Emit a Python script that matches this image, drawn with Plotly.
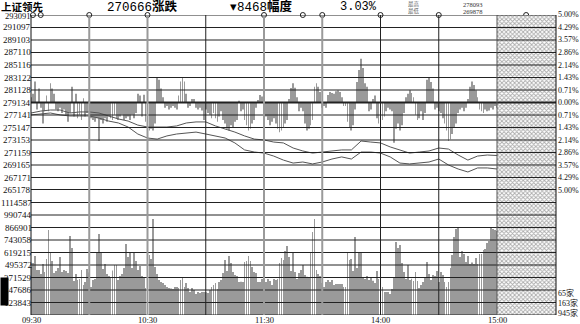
import plotly.graph_objects as go

W, H = 580, 324
X0, X1 = 31, 556          # plot left / right pixel
Y_TOP, Y_MID, Y_BOT = 15, 190, 315
PX_PER_MIN = 466 / 240.0
X_MAX = (X1 - X0) / PX_PER_MIN

def px(x):
    return x / W

def py(y):
    return 1 - y / H

# ---------------- data ----------------
# leading-indicator bars (% of previous close), one per minute 09:30..15:00
lead_pct = [
    0.3, 0.5, 1.2, -0.4, 0.8, -0.3, -1.2, -0.5, 0.4, -0.5,
    1.1, 0.8, 0.5, -0.4, -0.5, -0.3, -0.6, -0.4, -0.7, -1.1,
    -0.6, 0.9, -0.8, 0.5, -0.9, -0.7, -1.0, 0.25, -0.8, -0.6,
    0.1, -0.9, -1.0, -1.1, -0.9, -2.2, -1.0, -1.2, -0.9, -1.1,
    -0.8, -0.9, -1.0, -0.7, -0.9, -1.0, -0.8, -0.7, -1.0, -0.9,
    -0.8, -1.0, -0.7, -0.9, -0.6, 0.5, 0.4, -0.8, 0.45, -1.1,
    -1.0, -1.6, -1.5, -1.6, -1.2, 1.4, 1.3, 0.8, 0.3, -0.3,
    -0.2, -0.4, -0.3, -0.2, -0.3, -0.4, 0.4, 1.2, 1.4, 1.2,
    0.5, -0.3, -0.2, 0.2, 0.2, -0.3, -0.4, -0.3, -0.45, -1.0,
    -0.4, -0.6, -0.7, -0.9, -0.6, -0.9, -1.1, -0.8, -0.5, -1.0,
    -1.2, -1.5, -1.6, -1.3, -1.4, -1.1, -1.0, 0.1, -0.5, -0.4,
    -1.0, -1.3, -1.6, -1.5, -1.2, -1.0, -0.3, 0.14, 0.43, 0.35,
    -0.2, -0.8, -1.0, -1.3, -1.1, -0.9, -1.2, -1.5, -1.7, -1.6,
    -1.4, -1.2, -1.0, 0.2, 0.83, 1.1, 0.85, 0.3, -0.5, -0.3,
    -0.5, -1.2, -1.6, -1.5, -1.3, -1.0, 0.9, 1.1, 0.9, 0.6,
    -0.3, -0.2, -0.3, 0.43, 0.6, 0.55, 0.5, 0.65, 0.68, 0.6,
    0.3, -0.2, -0.2, -1.1, -1.4, -1.6, -1.3, -0.4, 1.17, 1.86,
    2.5, 1.97, 1.1, 0.9, -0.5, -0.4, 0.2, 0.4, -0.9, -1.2,
    -1.3, -1.0, -0.8, -0.5, -0.3, -0.4, -0.5, -2.3, -1.5, -1.2,
    -1.6, -1.3, -0.6, 0.3, 0.5, 0.7, 0.55, 0.3, -0.7, -1.0,
    -0.9, -0.5, -1.0, -0.6, 1.3, 1.4, 1.17, 0.8, -0.4, -0.3,
    -0.5, -0.6, -0.9, -1.2, -1.6, -2.2, -2.1, -1.8, -1.4, -1.2,
    -0.6, -0.4, -0.3, -0.5, -0.3, 0.2, 0.9, 1.2, 1.0, 0.7,
    0.3, -0.4, -0.5, -0.6, -0.4, -0.5, -0.45, -0.3, -0.4, -0.2, -0.3,
]

# volume per minute, in thousands
volume_k = [
    480, 515, 585, 446, 446, 406, 505, 426, 555, 842, 614, 535, 416, 436, 466, 575,
    426, 446, 436, 416, 783, 664, 337, 406, 347, 357, 446, 297, 327, 456, 420,
    277, 347, 357, 614, 803, 614, 456, 505, 406, 386, 376,
    440,
    495, 495, 347, 386, 406, 466, 703, 575, 614, 466, 624, 535, 446, 485, 386, 376,
    267, 446, 594, 555, 951, 476, 406, 347, 327, 317, 297, 277, 267,
    262,
    257, 277, 277, 267, 347, 367, 277, 317, 267, 228, 267, 248, 208, 228,
    218, 228, 228, 225, 218, 247, 277, 297, 317, 257, 327, 347, 416, 545, 436, 585,
    515, 426, 396, 386, 327,
    330,
    327, 525, 535, 585, 535, 476, 426, 416, 327, 327, 357, 330, 327, 357, 337, 297,
    357, 347, 357, 515, 565, 545, 634, 684, 575, 436, 614, 426, 357, 416, 446, 495, 396,
    380,
    367, 624, 822, 951, 446, 406, 386, 317, 277, 327, 347, 327, 347, 297, 307, 307,
    307, 307, 277, 277, 614, 545, 555, 436, 773, 466, 614, 614, 367, 357, 386, 347, 367,
    340,
    317, 436, 357,
    267, 277, 228, 228, 228, 208, 257, 367, 723, 664, 694, 515, 426, 357, 495, 347,
    360,
    337, 426, 337, 267, 297, 327, 377, 525, 406, 347, 396, 386, 436, 327, 426, 396,
    327, 277, 327, 466, 594, 773, 851, 872, 575, 634, 604, 525, 585, 505,
    520,
    505, 565, 505, 604, 604, 644, 654, 713, 733, 862, 851, 841, 831,
]

line_minutes = list(range(0, 241, 5))
index_pct = [
    -0.60, -0.49, -0.43, -0.43, -0.60, -0.54, -0.54, -0.60, -0.77, -0.94,
    -1.06, -1.29, -1.40, -1.40, -1.40, -1.34, -1.17, -1.11, -1.11, -1.34,
    -1.51, -1.69, -1.91, -2.09, -2.14, -2.26, -2.31, -2.60, -2.77, -2.89,
    -2.83, -2.77, -2.71, -2.71, -2.20, -2.26, -2.31, -2.54, -2.71, -2.89,
    -2.83, -2.77, -2.60, -2.66, -3.00, -3.29, -3.06, -3.00, -3.03,
]
breadth_pct = [
    -0.71, -0.66, -0.60, -0.71, -0.77, -0.77, -0.77, -0.89, -1.06, -1.17,
    -1.40, -1.80, -2.03, -2.09, -1.91, -1.80, -1.74, -1.69, -1.80, -1.91,
    -2.03, -2.31, -2.71, -2.83, -2.89, -3.06, -3.29, -3.46, -3.40, -3.51,
    -3.40, -3.23, -3.11, -3.23, -2.83, -2.83, -2.89, -3.11, -3.46, -3.51,
    -3.46, -3.40, -3.23, -3.57, -3.80, -3.97, -3.74, -3.74, -3.80,
]

price_labels = ["293091", "291097", "289103", "287110", "285116", "283122", "281128",
                "279134", "277141", "275147", "273153", "271159", "269165", "267171", "265178"]
pct_labels = ["5.00%", "4.29%", "3.57%", "2.86%", "2.14%", "1.43%", "0.71%", "0.00%",
              "0.71%", "1.43%", "2.14%", "2.86%", "3.57%", "4.29%", "5.00%"]
volume_labels = ["1114587", "990744", "866901", "743058", "619215", "495372",
                 "371529", "247686", "123843"]
volume_step_k = 123.843
time_labels = ["09:30", "10:30", "11:30", "14:00", "15:00"]
time_minutes = [0, 60, 120, 180, 240]
count_labels = ["65家", "163家", "945家"]
marker_minutes = [1, 5, 30, 60, 120, 140, 150, 180, 210, 255]
grid_minutes = [30, 60, 90, 120, 150, 180, 210]
grid_colors = ["#9a9a9a", "#9a9a9a", "#222", "#9a9a9a", "#9a9a9a", "#222", "#222"]

# ---------------- figure ----------------
fig = go.Figure()

fig.add_trace(go.Scatter(
    x=[240, X_MAX, X_MAX, 240, 240], y=[0, 0, 1, 1, 0], xaxis="x", yaxis="y3",
    mode="lines", line=dict(width=0), fill="toself", fillcolor="white",
    fillpattern=dict(shape="x", size=3, fgcolor="#555", bgcolor="white", solidity=0.5),
    hoverinfo="skip", showlegend=False))

fig.add_trace(go.Bar(x=list(range(len(lead_pct))), y=lead_pct, xaxis="x", yaxis="y",
                     width=0.4, marker=dict(color="#9a9a9a", line=dict(width=0)),
                     showlegend=False))
fig.add_trace(go.Bar(x=list(range(len(volume_k))), y=volume_k, xaxis="x", yaxis="y2",
                     width=0.4, marker=dict(color="#9a9a9a", line=dict(width=0)),
                     showlegend=False))
fig.add_trace(go.Scatter(x=line_minutes, y=index_pct, xaxis="x", yaxis="y", mode="lines",
                         line=dict(color="#555", width=1), showlegend=False))
fig.add_trace(go.Scatter(x=line_minutes, y=breadth_pct, xaxis="x", yaxis="y", mode="lines",
                         line=dict(color="#555", width=1), showlegend=False))
fig.add_trace(go.Scatter(x=marker_minutes, y=[5] * len(marker_minutes), xaxis="x", yaxis="y",
                         mode="markers", cliponaxis=False,
                         marker=dict(symbol="circle-open", size=5, color="#222",
                                     line=dict(width=1, color="#222")),
                         showlegend=False))

shapes = []
n = len(price_labels)
for i in range(n):
    v = 5 - i * 10.0 / (n - 1)
    w = 2 if i in (7, n - 1) else 1
    shapes.append(dict(type="line", xref="paper", yref="y", x0=px(X0), x1=px(X1), y0=v, y1=v,
                       line=dict(color="#222", width=w), layer="above"))
for j in range(len(volume_labels) + 1):
    v = j * volume_step_k
    shapes.append(dict(type="line", xref="paper", yref="y2", x0=px(X0), x1=px(X1), y0=v, y1=v,
                       line=dict(color="#222", width=1), layer="above"))
for m, c in zip(grid_minutes, grid_colors):
    shapes.append(dict(type="line", xref="x", yref="paper", x0=m, x1=m,
                       y0=py(Y_BOT), y1=py(Y_TOP), line=dict(color=c, width=2 if c != "#222" else 1),
                       layer="above"))
for xx in (X0, X1):
    shapes.append(dict(type="line", xref="paper", yref="paper", x0=px(xx), x1=px(xx),
                       y0=py(Y_BOT), y1=py(Y_TOP), line=dict(color="#111", width=1), layer="above"))
shapes.append(dict(type="line", xref="x", yref="paper", x0=240, x1=240,
                   y0=py(Y_BOT), y1=py(Y_TOP), line=dict(color="#555", width=1), layer="above"))

ann = []
SERIF = "Liberation Serif, DejaVu Serif, serif"
for i, t in enumerate(price_labels):
    v = 5 - i * 10.0 / (n - 1)
    if i == 0:
        ann.append(dict(text=t, xref="paper", yref="paper", x=px(X0 + 0.5), y=py(15.8),
                        xanchor="right", yanchor="middle", height=8, showarrow=False, borderpad=0,
                        font=dict(family=SERIF, size=8.5, color="#111")))
    else:
        ann.append(dict(text=t, xref="paper", yref="y", x=px(X0 + 0.5), y=v, xanchor="right",
                        yanchor="middle", showarrow=False, borderpad=0,
                        font=dict(family=SERIF, size=9, color="#111")))
    ann.append(dict(text=pct_labels[i], xref="paper", yref="y", x=px(X1 + 1), y=v, xanchor="left",
                    yanchor="middle", showarrow=False, borderpad=0,
                    font=dict(family=SERIF, size=8, color="#111")))
for j, t in enumerate(volume_labels):
    v = (len(volume_labels) - j) * volume_step_k
    ann.append(dict(text=t, xref="paper", yref="y2", x=px(X0 + 2), y=v, xanchor="right",
                    yanchor="middle", showarrow=False, borderpad=0,
                    font=dict(family=SERIF, size=9, color="#111")))
for t, m in zip(time_labels, time_minutes):
    ann.append(dict(text=t, xref="x", yref="paper", x=m, y=py(319.5), xanchor="center",
                    yanchor="middle", showarrow=False, borderpad=0,
                    font=dict(family=SERIF, size=8.5, color="#111")))
for k, t in enumerate(count_labels):
    ann.append(dict(text=t, xref="paper", yref="paper", x=px(X1 + 1), y=py(293 + 10 * k),
                    xanchor="left", yanchor="middle", showarrow=False, borderpad=0,
                    font=dict(family="Liberation Serif, Noto Sans CJK SC", size=8, color="#111")))

# black block at lower left
ann.append(dict(text=" ", xref="paper", yref="paper", x=0, y=py(277), xanchor="left", yanchor="top",
                width=7, height=27, bgcolor="black", borderpad=0, showarrow=False,
                font=dict(size=8)))

CJK = "Noto Sans CJK SC"
MONO = "Liberation Mono, " + CJK
ann += [
    dict(text="<b>上证领先</b>", xref="paper", yref="paper", x=0, y=1, xanchor="left",
         yanchor="top", height=11.5, showarrow=False, borderpad=0,
         font=dict(family=CJK, size=10.5, color="#000")),
    dict(text="270666<b>涨跌</b>", xref="paper", yref="paper", x=px(106), y=py(7), xanchor="left",
         yanchor="middle", showarrow=False, borderpad=0,
         font=dict(family=MONO, size=12.5, color="#000")),
    dict(text="▾8468<b>幅度</b>", xref="paper", yref="paper", x=px(229), y=py(7), xanchor="left",
         yanchor="middle", showarrow=False, borderpad=0,
         font=dict(family=MONO, size=12.5, color="#000")),
    dict(text="3.03%", xref="paper", yref="paper", x=px(339), y=py(7), xanchor="left",
         yanchor="middle", showarrow=False, borderpad=0,
         font=dict(family=MONO, size=12, color="#000")),
    dict(text="最高", xref="paper", yref="paper", x=px(407), y=py(4), xanchor="left",
         yanchor="middle", showarrow=False, borderpad=0,
         font=dict(family=CJK, size=5.5, color="#666")),
    dict(text="最低", xref="paper", yref="paper", x=px(407), y=py(11), xanchor="left",
         yanchor="middle", showarrow=False, borderpad=0,
         font=dict(family=CJK, size=5.5, color="#666")),
    dict(text="278093", xref="paper", yref="paper", x=px(462), y=py(4.2), xanchor="left",
         yanchor="middle", showarrow=False, borderpad=0,
         font=dict(family=SERIF, size=6.5, color="#333")),
    dict(text="269878", xref="paper", yref="paper", x=px(462), y=py(11.2), xanchor="left",
         yanchor="middle", showarrow=False, borderpad=0,
         font=dict(family=SERIF, size=6.5, color="#333")),
]

fig.update_layout(
    width=W, height=H, margin=dict(l=0, r=0, t=0, b=0),
    paper_bgcolor="white", plot_bgcolor="rgba(0,0,0,0)", barmode="overlay",
    xaxis=dict(domain=[px(X0), px(X1)], range=[0, X_MAX], showgrid=False, zeroline=False,
               showticklabels=False, ticks="", anchor="y2"),
    yaxis=dict(domain=[py(Y_MID), py(Y_TOP)], range=[-5, 5], showgrid=False, zeroline=False,
               showticklabels=False, anchor="x"),
    yaxis2=dict(domain=[py(Y_BOT), py(Y_MID)], range=[0, 10 * volume_step_k], showgrid=False,
                zeroline=False, showticklabels=False, anchor="x"),
    yaxis3=dict(domain=[py(Y_BOT), py(Y_TOP)], range=[0, 1], visible=False, anchor="x"),
    shapes=shapes, annotations=ann, showlegend=False,
)

fig.write_html("out.html")
